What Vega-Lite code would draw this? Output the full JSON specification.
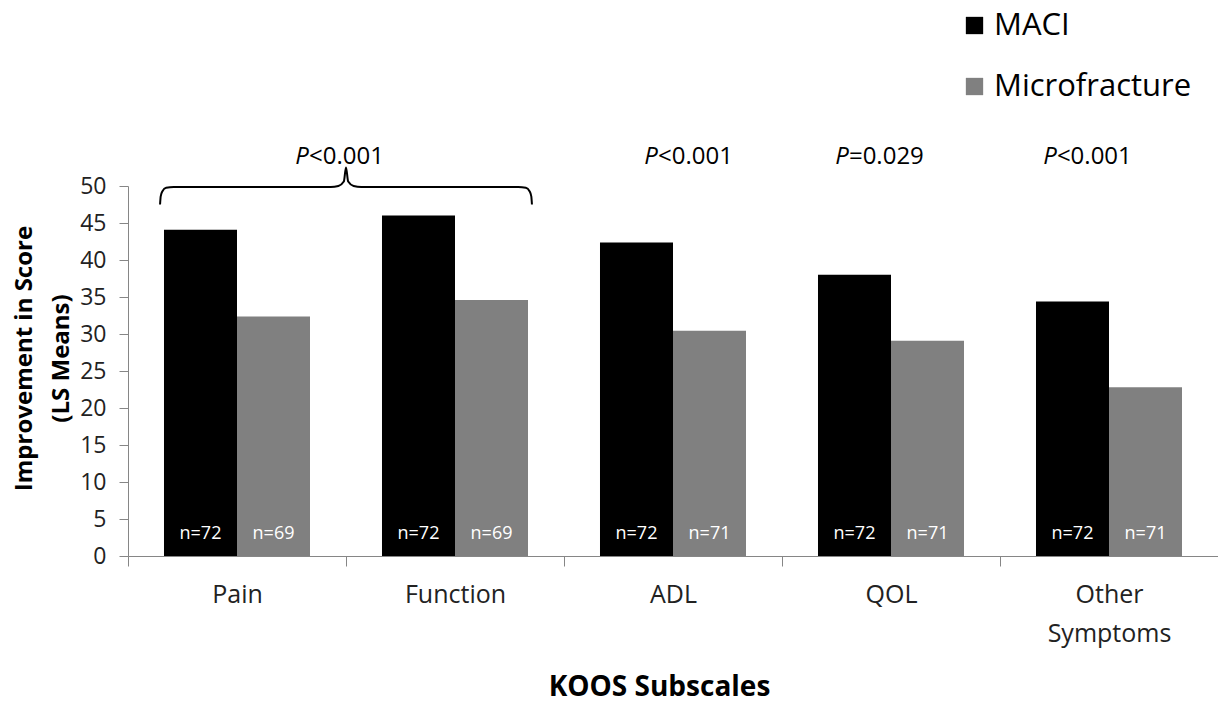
{
  "$schema": "https://vega.github.io/schema/vega-lite/v6.json",
  "width": 1090,
  "height": 370,
  "autosize": {"type": "none"},
  "padding": {"left": 128, "top": 186, "right": 0, "bottom": 153},
  "config": {
    "font": "Open Sans",
    "view": {"stroke": null},
    "axis": {"grid": false},
    "axisY": {
      "labelFontSize": 23,
      "labelColor": "#222222",
      "labelPadding": 13,
      "tickSize": 9,
      "domainColor": "#868686",
      "tickColor": "#868686",
      "labelOverlap": false,
      "titleFontSize": 24,
      "titleFontWeight": "bold",
      "titleColor": "#000000",
      "titleLineHeight": 37,
      "titleAngle": -90,
      "titleBaseline": "top",
      "titleAlign": "center",
      "titleX": -116,
      "titleY": 172
    }
  },
  "datasets": {
    "bars": [
      {"subscale": "Pain", "group": "MACI", "value": 44.1, "n": "n=72"},
      {"subscale": "Pain", "group": "Microfracture", "value": 32.35, "n": "n=69"},
      {"subscale": "Function", "group": "MACI", "value": 46.0, "n": "n=72"},
      {"subscale": "Function", "group": "Microfracture", "value": 34.6, "n": "n=69"},
      {"subscale": "ADL", "group": "MACI", "value": 42.35, "n": "n=72"},
      {"subscale": "ADL", "group": "Microfracture", "value": 30.45, "n": "n=71"},
      {"subscale": "QOL", "group": "MACI", "value": 38.0, "n": "n=72"},
      {"subscale": "QOL", "group": "Microfracture", "value": 29.1, "n": "n=71"},
      {"subscale": "Other Symptoms", "group": "MACI", "value": 34.4, "n": "n=72"},
      {"subscale": "Other Symptoms", "group": "Microfracture", "value": 22.8, "n": "n=71"}
    ],
    "ptext": [
      {"pos": 0.83, "rest": "<0.001"},
      {"pos": 2.431, "rest": "<0.001"},
      {"pos": 3.307, "rest": "=0.029"},
      {"pos": 4.261, "rest": "<0.001"}
    ],
    "brace": [
      {"bx": 0.147, "by": 47.5},
      {"bx": 0.150, "by": 48.6},
      {"bx": 0.158, "by": 49.3},
      {"bx": 0.175, "by": 49.75},
      {"bx": 0.21, "by": 49.85},
      {"bx": 0.93, "by": 49.85},
      {"bx": 0.965, "by": 50.0},
      {"bx": 0.99, "by": 50.6},
      {"bx": 1.0, "by": 52.5},
      {"bx": 1.01, "by": 50.6},
      {"bx": 1.035, "by": 50.0},
      {"bx": 1.07, "by": 49.85},
      {"bx": 1.79, "by": 49.85},
      {"bx": 1.825, "by": 49.75},
      {"bx": 1.842, "by": 49.3},
      {"bx": 1.850, "by": 48.6},
      {"bx": 1.853, "by": 47.5}
    ]
  },
  "layer": [
    {
      "data": {"name": "bars"},
      "encoding": {
        "x": {
          "field": "subscale",
          "type": "nominal",
          "sort": ["Pain", "Function", "ADL", "QOL", "Other Symptoms"],
          "scale": {"paddingInner": 0, "paddingOuter": 0},
          "axis": {
            "title": "KOOS Subscales",
            "labelFontSize": 25,
            "labelColor": "#222222",
            "labelAngle": 0,
            "labelPadding": 16,
            "labelBaseline": "top",
            "labelOverlap": false,
            "labelExpr": "split(datum.label, ' ')",
            "labelLineHeight": 39,
            "tickSize": 10,
            "tickBand": "extent",
            "domainColor": "#868686",
            "tickColor": "#868686",
            "titleFontSize": 28,
            "titleFontWeight": "bold",
            "titleColor": "#000000",
            "titleX": 531,
            "titleY": 131,
            "titleBaseline": "middle"
          }
        },
        "xOffset": {
          "field": "group",
          "type": "nominal",
          "sort": ["MACI", "Microfracture"],
          "scale": {"paddingInner": 0, "paddingOuter": 0.493}
        }
      },
      "layer": [
        {
          "mark": {"type": "bar"},
          "encoding": {
            "y": {
              "field": "value",
              "type": "quantitative",
              "scale": {"domain": [0, 50], "nice": false},
              "axis": {
                "title": ["Improvement in Score", "(LS Means)"],
                "values": [0, 5, 10, 15, 20, 25, 30, 35, 40, 45, 50]
              }
            },
            "color": {
              "field": "group",
              "type": "nominal",
              "sort": ["MACI", "Microfracture"],
              "scale": {"domain": ["MACI", "Microfracture"], "range": ["#000000", "#808080"]},
              "legend": {
                "orient": "none",
                "legendX": 831,
                "legendY": -176,
                "title": null,
                "symbolType": "square",
                "symbolSize": 300,
                "symbolStrokeWidth": 0,
                "symbolOpacity": 1,
                "labelFontSize": 31,
                "labelLimit": 400,
                "labelColor": "#000000",
                "labelOffset": 4,
                "rowPadding": 29,
                "padding": 0
              }
            }
          }
        },
        {
          "mark": {"type": "text", "fontSize": 18, "color": "white", "baseline": "middle"},
          "encoding": {
            "y": {"datum": 3, "type": "quantitative", "axis": {"title": ["Improvement in Score", "(LS Means)"], "values": [0, 5, 10, 15, 20, 25, 30, 35, 40, 45, 50]}},
            "text": {"field": "n"}
          }
        }
      ]
    },
    {
      "layer": [
        {
          "data": {"name": "brace"},
          "mark": {"type": "line", "color": "#000000", "strokeWidth": 2, "interpolate": "monotone"},
          "encoding": {
            "x": {"field": "bx", "type": "quantitative", "scale": {"domain": [0, 5], "nice": false, "zero": false}, "axis": null},
            "y": {"field": "by", "type": "quantitative", "axis": {"title": ["Improvement in Score", "(LS Means)"], "values": [0, 5, 10, 15, 20, 25, 30, 35, 40, 45, 50]}}
          }
        },
        {
          "data": {"name": "ptext"},
          "mark": {"type": "text", "fontSize": 24, "fontStyle": "italic", "align": "right", "baseline": "middle", "color": "#000000"},
          "encoding": {
            "x": {"field": "pos", "type": "quantitative", "scale": {"domain": [0, 5], "nice": false, "zero": false}, "axis": null},
            "y": {"datum": 53.9, "type": "quantitative", "axis": {"title": ["Improvement in Score", "(LS Means)"], "values": [0, 5, 10, 15, 20, 25, 30, 35, 40, 45, 50]}},
            "text": {"value": "P"}
          }
        },
        {
          "data": {"name": "ptext"},
          "mark": {"type": "text", "fontSize": 24, "align": "left", "baseline": "middle", "color": "#000000"},
          "encoding": {
            "x": {"field": "pos", "type": "quantitative", "scale": {"domain": [0, 5], "nice": false, "zero": false}, "axis": null},
            "y": {"datum": 53.9, "type": "quantitative", "axis": {"title": ["Improvement in Score", "(LS Means)"], "values": [0, 5, 10, 15, 20, 25, 30, 35, 40, 45, 50]}},
            "text": {"field": "rest"}
          }
        }
      ]
    }
  ],
  "resolve": {"scale": {"x": "independent"}}
}
